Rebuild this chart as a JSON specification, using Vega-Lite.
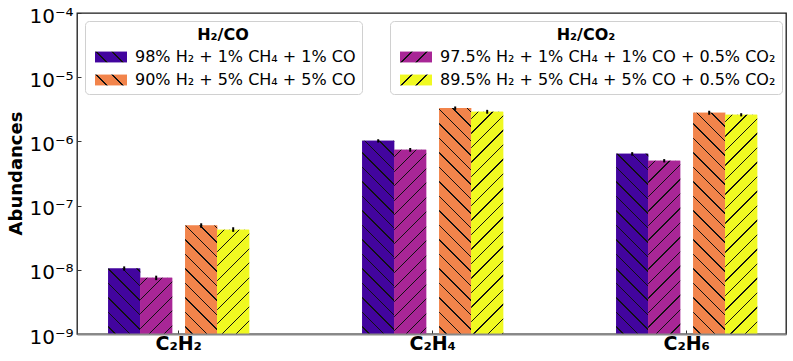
{
  "$schema": "https://vega.github.io/schema/vega-lite/v6.json",
  "width": 709,
  "height": 321,
  "autosize": {"type": "none"},
  "padding": {"left": 77, "top": 13, "right": 7, "bottom": 27},
  "params": [
    {"name": "hatchStops", "value": [
      {"offset": 0.0225, "color": "rgba(0,0,0,0)"}, {"offset": 0.0225, "color": "#111"}, {"offset": 0.0275, "color": "#111"}, {"offset": 0.0275, "color": "rgba(0,0,0,0)"},
      {"offset": 0.0725, "color": "rgba(0,0,0,0)"}, {"offset": 0.0725, "color": "#111"}, {"offset": 0.0775, "color": "#111"}, {"offset": 0.0775, "color": "rgba(0,0,0,0)"},
      {"offset": 0.1225, "color": "rgba(0,0,0,0)"}, {"offset": 0.1225, "color": "#111"}, {"offset": 0.1275, "color": "#111"}, {"offset": 0.1275, "color": "rgba(0,0,0,0)"},
      {"offset": 0.1725, "color": "rgba(0,0,0,0)"}, {"offset": 0.1725, "color": "#111"}, {"offset": 0.1775, "color": "#111"}, {"offset": 0.1775, "color": "rgba(0,0,0,0)"},
      {"offset": 0.2225, "color": "rgba(0,0,0,0)"}, {"offset": 0.2225, "color": "#111"}, {"offset": 0.2275, "color": "#111"}, {"offset": 0.2275, "color": "rgba(0,0,0,0)"},
      {"offset": 0.2725, "color": "rgba(0,0,0,0)"}, {"offset": 0.2725, "color": "#111"}, {"offset": 0.2775, "color": "#111"}, {"offset": 0.2775, "color": "rgba(0,0,0,0)"},
      {"offset": 0.3225, "color": "rgba(0,0,0,0)"}, {"offset": 0.3225, "color": "#111"}, {"offset": 0.3275, "color": "#111"}, {"offset": 0.3275, "color": "rgba(0,0,0,0)"},
      {"offset": 0.3725, "color": "rgba(0,0,0,0)"}, {"offset": 0.3725, "color": "#111"}, {"offset": 0.3775, "color": "#111"}, {"offset": 0.3775, "color": "rgba(0,0,0,0)"},
      {"offset": 0.4225, "color": "rgba(0,0,0,0)"}, {"offset": 0.4225, "color": "#111"}, {"offset": 0.4275, "color": "#111"}, {"offset": 0.4275, "color": "rgba(0,0,0,0)"},
      {"offset": 0.4725, "color": "rgba(0,0,0,0)"}, {"offset": 0.4725, "color": "#111"}, {"offset": 0.4775, "color": "#111"}, {"offset": 0.4775, "color": "rgba(0,0,0,0)"},
      {"offset": 0.5225, "color": "rgba(0,0,0,0)"}, {"offset": 0.5225, "color": "#111"}, {"offset": 0.5275, "color": "#111"}, {"offset": 0.5275, "color": "rgba(0,0,0,0)"},
      {"offset": 0.5725, "color": "rgba(0,0,0,0)"}, {"offset": 0.5725, "color": "#111"}, {"offset": 0.5775, "color": "#111"}, {"offset": 0.5775, "color": "rgba(0,0,0,0)"},
      {"offset": 0.6225, "color": "rgba(0,0,0,0)"}, {"offset": 0.6225, "color": "#111"}, {"offset": 0.6275, "color": "#111"}, {"offset": 0.6275, "color": "rgba(0,0,0,0)"},
      {"offset": 0.6725, "color": "rgba(0,0,0,0)"}, {"offset": 0.6725, "color": "#111"}, {"offset": 0.6775, "color": "#111"}, {"offset": 0.6775, "color": "rgba(0,0,0,0)"},
      {"offset": 0.7225, "color": "rgba(0,0,0,0)"}, {"offset": 0.7225, "color": "#111"}, {"offset": 0.7275, "color": "#111"}, {"offset": 0.7275, "color": "rgba(0,0,0,0)"},
      {"offset": 0.7725, "color": "rgba(0,0,0,0)"}, {"offset": 0.7725, "color": "#111"}, {"offset": 0.7775, "color": "#111"}, {"offset": 0.7775, "color": "rgba(0,0,0,0)"},
      {"offset": 0.8225, "color": "rgba(0,0,0,0)"}, {"offset": 0.8225, "color": "#111"}, {"offset": 0.8275, "color": "#111"}, {"offset": 0.8275, "color": "rgba(0,0,0,0)"},
      {"offset": 0.8725, "color": "rgba(0,0,0,0)"}, {"offset": 0.8725, "color": "#111"}, {"offset": 0.8775, "color": "#111"}, {"offset": 0.8775, "color": "rgba(0,0,0,0)"},
      {"offset": 0.9225, "color": "rgba(0,0,0,0)"}, {"offset": 0.9225, "color": "#111"}, {"offset": 0.9275, "color": "#111"}, {"offset": 0.9275, "color": "rgba(0,0,0,0)"},
      {"offset": 0.9725, "color": "rgba(0,0,0,0)"}, {"offset": 0.9725, "color": "#111"}, {"offset": 0.9775, "color": "#111"}, {"offset": 0.9775, "color": "rgba(0,0,0,0)"}
    ]},
    {"name": "gPurple", "value": {"gradient": "linear", "x1": 0, "y1": 1, "x2": 1.2011, "y2": 0.5916, "stops": [
      {"offset": 0, "color": "#42049e"}, {"offset": 0.261, "color": "#42049e"}, {"offset": 0.261, "color": "#111"}, {"offset": 0.293, "color": "#111"}, {"offset": 0.293, "color": "#42049e"},
      {"offset": 0.634, "color": "#42049e"}, {"offset": 0.634, "color": "#111"}, {"offset": 0.666, "color": "#111"}, {"offset": 0.666, "color": "#42049e"}, {"offset": 1, "color": "#42049e"}]}},
    {"name": "gOrange", "value": {"gradient": "linear", "x1": 0, "y1": 1, "x2": 1.2011, "y2": 0.5916, "stops": [
      {"offset": 0, "color": "#f2844b"}, {"offset": 0.261, "color": "#f2844b"}, {"offset": 0.261, "color": "#111"}, {"offset": 0.293, "color": "#111"}, {"offset": 0.293, "color": "#f2844b"},
      {"offset": 0.634, "color": "#f2844b"}, {"offset": 0.634, "color": "#111"}, {"offset": 0.666, "color": "#111"}, {"offset": 0.666, "color": "#f2844b"}, {"offset": 1, "color": "#f2844b"}]}},
    {"name": "gMagenta", "value": {"gradient": "linear", "x1": 0, "y1": 0, "x2": 1.2011, "y2": 0.4084, "stops": [
      {"offset": 0, "color": "#a82696"}, {"offset": 0.264, "color": "#a82696"}, {"offset": 0.264, "color": "#111"}, {"offset": 0.296, "color": "#111"}, {"offset": 0.296, "color": "#a82696"},
      {"offset": 0.614, "color": "#a82696"}, {"offset": 0.614, "color": "#111"}, {"offset": 0.646, "color": "#111"}, {"offset": 0.646, "color": "#a82696"}, {"offset": 1, "color": "#a82696"}]}},
    {"name": "gYellow", "value": {"gradient": "linear", "x1": 0, "y1": 0, "x2": 1.2011, "y2": 0.4084, "stops": [
      {"offset": 0, "color": "#f0f921"}, {"offset": 0.264, "color": "#f0f921"}, {"offset": 0.264, "color": "#111"}, {"offset": 0.296, "color": "#111"}, {"offset": 0.296, "color": "#f0f921"},
      {"offset": 0.614, "color": "#f0f921"}, {"offset": 0.614, "color": "#111"}, {"offset": 0.646, "color": "#111"}, {"offset": 0.646, "color": "#f0f921"}, {"offset": 1, "color": "#f0f921"}]}}
  ],
  "config": {
    "font": "DejaVu Sans",
    "view": {"stroke": "#1a1a1a", "strokeWidth": 1.3},
    "legend": {
      "titleFont": "DejaVu Sans", "titleFontSize": 16, "titleFontWeight": "bold", "titleColor": "black",
      "titleAnchor": "middle", "titlePadding": 6,
      "labelFont": "DejaVu Sans", "labelFontSize": 16, "labelColor": "black", "labelLimit": 400,
      "symbolType": "M-0.5,-0.68H3.5V0.68H-0.5Z", "symbolSize": 256, "symbolStrokeWidth": 0, "symbolOpacity": 1,
      "labelOffset": 28, "rowPadding": 7, "padding": 6,
      "fillColor": "rgba(255,255,255,0.8)", "strokeColor": "#d0d0d0", "cornerRadius": 4
    }
  },
  "data": {"values": [
    {"species": "C₂H₂", "gas": "CO", "mix": "1%", "label": "98% H₂ + 1% CH₄ + 1% CO", "value": 1.05e-8, "lo": 0.97e-8, "hi": 1.13e-8},
    {"species": "C₂H₂", "gas": "CO2", "mix": "1%", "label": "97.5% H₂ + 1% CH₄ + 1% CO + 0.5% CO₂", "value": 7.5e-9, "lo": 6.9e-9, "hi": 8.1e-9},
    {"species": "C₂H₂", "gas": "CO", "mix": "5%", "label": "90% H₂ + 5% CH₄ + 5% CO", "value": 4.9e-8, "lo": 4.5e-8, "hi": 5.3e-8},
    {"species": "C₂H₂", "gas": "CO2", "mix": "5%", "label": "89.5% H₂ + 5% CH₄ + 5% CO + 0.5% CO₂", "value": 4.2e-8, "lo": 3.9e-8, "hi": 4.6e-8},
    {"species": "C₂H₄", "gas": "CO", "mix": "1%", "label": "98% H₂ + 1% CH₄ + 1% CO", "value": 1.02e-6, "lo": 0.96e-6, "hi": 1.08e-6},
    {"species": "C₂H₄", "gas": "CO2", "mix": "1%", "label": "97.5% H₂ + 1% CH₄ + 1% CO + 0.5% CO₂", "value": 7.4e-7, "lo": 6.9e-7, "hi": 7.9e-7},
    {"species": "C₂H₄", "gas": "CO", "mix": "5%", "label": "90% H₂ + 5% CH₄ + 5% CO", "value": 3.3e-6, "lo": 3.1e-6, "hi": 3.5e-6},
    {"species": "C₂H₄", "gas": "CO2", "mix": "5%", "label": "89.5% H₂ + 5% CH₄ + 5% CO + 0.5% CO₂", "value": 2.9e-6, "lo": 2.7e-6, "hi": 3.1e-6},
    {"species": "C₂H₆", "gas": "CO", "mix": "1%", "label": "98% H₂ + 1% CH₄ + 1% CO", "value": 6.4e-7, "lo": 6.0e-7, "hi": 6.8e-7},
    {"species": "C₂H₆", "gas": "CO2", "mix": "1%", "label": "97.5% H₂ + 1% CH₄ + 1% CO + 0.5% CO₂", "value": 5.0e-7, "lo": 4.7e-7, "hi": 5.3e-7},
    {"species": "C₂H₆", "gas": "CO", "mix": "5%", "label": "90% H₂ + 5% CH₄ + 5% CO", "value": 2.8e-6, "lo": 2.6e-6, "hi": 3.0e-6},
    {"species": "C₂H₆", "gas": "CO2", "mix": "5%", "label": "89.5% H₂ + 5% CH₄ + 5% CO + 0.5% CO₂", "value": 2.6e-6, "lo": 2.45e-6, "hi": 2.75e-6}
  ]},
  "encoding": {
    "x": {
      "field": "species", "type": "nominal", "sort": ["C₂H₂", "C₂H₄", "C₂H₆"],
      "scale": {"paddingInner": 0.4449, "paddingOuter": 0.1181, "align": 0.52},
      "axis": {
        "title": null, "labelAngle": 0, "labelFont": "DejaVu Sans", "labelFontWeight": "bold",
        "labelFontSize": 19, "labelColor": "black", "domainColor": "#888888", "domainWidth": 2,
        "tickSize": -4, "tickColor": "#333333", "labelPadding": 4, "zindex": 1
      }
    },
    "y": {
      "field": "value", "type": "quantitative", "title": "Abundances",
      "scale": {"type": "log", "domain": [1e-9, 1e-4], "nice": false},
      "axis": {
        "values": [1e-9, 1e-8, 1e-7, 1e-6, 1e-5, 1e-4],
        "labelExpr": "'10' + (round(log(datum.value)/LN10) == -4 ? '⁻⁴' : round(log(datum.value)/LN10) == -5 ? '⁻⁵' : round(log(datum.value)/LN10) == -6 ? '⁻⁶' : round(log(datum.value)/LN10) == -7 ? '⁻⁷' : round(log(datum.value)/LN10) == -8 ? '⁻⁸' : '⁻⁹')",
        "labelFont": "DejaVu Sans", "labelFontSize": 20, "labelColor": "black",
        "labelBaseline": "alphabetic", "labelOffset": 9, "labelFlush": false, "labelOverlap": false,
        "tickSize": -4, "tickColor": "#333333", "labelPadding": 8,
        "domain": false, "grid": false,
        "titleFont": "DejaVu Sans", "titleFontSize": 18, "titleFontWeight": "bold", "titleColor": "black",
        "titleX": -56, "titleY": 160, "titleBaseline": "alphabetic", "titleAngle": -90
      }
    }
  },
  "layer": [
    {
      "transform": [{"filter": "datum.gas == 'CO'"}],
      "encoding": {
        "xOffset": {"field": "mix", "type": "nominal", "sort": ["1%", "5%"],
          "scale": {"domain": ["1%", "5%"], "paddingInner": 0.5844, "paddingOuter": 0.2078, "align": 0}}
      },
      "layer": [
        {
          "mark": {"type": "bar"},
          "encoding": {
            "y2": {"datum": 1e-9},
            "fill": {"field": "label", "type": "nominal",
              "scale": {"domain": ["98% H₂ + 1% CH₄ + 1% CO", "90% H₂ + 5% CH₄ + 5% CO"], "range": [{"expr": "gPurple"}, {"expr": "gOrange"}]},
              "legend": {"title": "H₂/CO", "orient": "none", "legendX": 8, "legendY": 8, "titleFontSize": 16, "labelFontSize": 16}}
          }
        },
        {
          "mark": {"type": "bar"},
          "encoding": {
            "y2": {"datum": 1e-9},
            "color": {"field": "label", "type": "nominal", "legend": null,
              "scale": {"domain": ["98% H₂ + 1% CH₄ + 1% CO", "90% H₂ + 5% CH₄ + 5% CO"], "range": ["#42049e", "#f2844b"]}}
          }
        },
        {
          "mark": {"type": "bar", "fill": {"expr": "{gradient: 'linear', x1: 0, y1: 1, x2: 290*32/(1024 + pow(scale('y', 1e-9) - scale('y', datum.value), 2)), y2: 1 - 290*(scale('y', 1e-9) - scale('y', datum.value))/(1024 + pow(scale('y', 1e-9) - scale('y', datum.value), 2)), stops: hatchStops}"}},
          "encoding": {"y2": {"datum": 1e-9}}
        },
        {
          "mark": {"type": "rule", "color": "black", "strokeWidth": 2},
          "encoding": {
            "y": {"field": "lo", "type": "quantitative", "title": "Abundances"},
            "y2": {"field": "hi"}
          }
        }
      ]
    },
    {
      "transform": [{"filter": "datum.gas == 'CO2'"}],
      "encoding": {
        "xOffset": {"field": "mix", "type": "nominal", "sort": ["1%", "5%"],
          "scale": {"domain": ["1%", "5%"], "paddingInner": 0.5844, "paddingOuter": 0.2078, "align": 1}}
      },
      "layer": [
        {
          "mark": {"type": "bar"},
          "encoding": {
            "y2": {"datum": 1e-9},
            "fill": {"field": "label", "type": "nominal",
              "scale": {"domain": ["97.5% H₂ + 1% CH₄ + 1% CO + 0.5% CO₂", "89.5% H₂ + 5% CH₄ + 5% CO + 0.5% CO₂"], "range": [{"expr": "gMagenta"}, {"expr": "gYellow"}]},
              "legend": {"title": "H₂/CO₂", "orient": "none", "legendX": 313, "legendY": 8, "titleFontSize": 16, "labelFontSize": 16}}
          }
        },
        {
          "mark": {"type": "bar"},
          "encoding": {
            "y2": {"datum": 1e-9},
            "color": {"field": "label", "type": "nominal", "legend": null,
              "scale": {"domain": ["97.5% H₂ + 1% CH₄ + 1% CO + 0.5% CO₂", "89.5% H₂ + 5% CH₄ + 5% CO + 0.5% CO₂"], "range": ["#a82696", "#f0f921"]}}
          }
        },
        {
          "mark": {"type": "bar", "fill": {"expr": "{gradient: 'linear', x1: 0, y1: 0, x2: 290*32/(1024 + pow(scale('y', 1e-9) - scale('y', datum.value), 2)), y2: 290*(scale('y', 1e-9) - scale('y', datum.value))/(1024 + pow(scale('y', 1e-9) - scale('y', datum.value), 2)), stops: hatchStops}"}},
          "encoding": {"y2": {"datum": 1e-9}}
        },
        {
          "mark": {"type": "rule", "color": "black", "strokeWidth": 2},
          "encoding": {
            "y": {"field": "lo", "type": "quantitative", "title": "Abundances"},
            "y2": {"field": "hi"}
          }
        }
      ]
    }
  ],
  "resolve": {"scale": {"xOffset": "independent", "fill": "independent", "color": "independent"}, "legend": {"fill": "independent", "color": "independent"}}
}
